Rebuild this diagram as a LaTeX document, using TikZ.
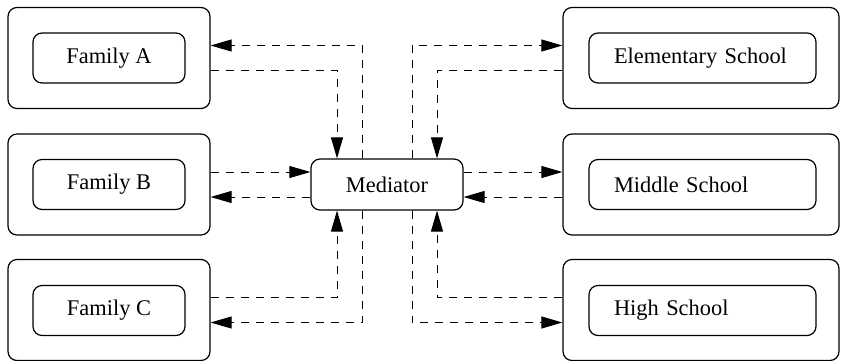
\documentclass[tikz,border=0pt]{standalone}
\usepackage{fontspec}
\setmainfont{Liberation Serif}
\usetikzlibrary{arrows.meta}
\begin{document}
\begin{tikzpicture}[x=0.5pt,y=-0.5pt,
  every node/.style={font=\fontsize{11.2}{13}\selectfont},
  outerbox/.style={draw,line width=0.6pt,rounded corners=4.5pt,minimum height=50.5pt,inner sep=0pt},
  leftouter/.style={outerbox,minimum width=101pt},
  rightouter/.style={outerbox,minimum width=138pt},
  innerbox/.style={draw,line width=0.6pt,rounded corners=4.5pt,minimum height=25pt,inner ysep=0pt},
  leftinner/.style={innerbox,minimum width=76pt,inner xsep=0pt},
  rightinner/.style={innerbox,minimum width=113.5pt,inner xsep=12.5pt,text width=88.5pt,align=left},
  medbox/.style={draw,line width=0.6pt,rounded corners=4.5pt,minimum width=76pt,minimum height=25.5pt,inner sep=0pt},
  flow/.style={draw,line width=0.5pt,dash pattern=on 4pt off 3.5pt,-{Triangle[length=10.5pt,width=6pt]}}
]
\useasboundingbox (0,0) rectangle (841,360);
% left outer boxes
\node[leftouter] (Aout) at (109,58) {};
\node[leftouter] (Bout) at (109,184.5) {};
\node[leftouter] (Cout) at (109,310) {};
\node[leftinner] (Ain) at (109,58) {Family A};
\node[leftinner] (Bin) at (109,184.5) {Family B};
\node[leftinner] (Cin) at (109,310.5) {Family C};
% right outer boxes
\node[rightouter] (Eout) at (701,58) {};
\node[rightouter] (Mout) at (701,184.5) {};
\node[rightouter] (Hout) at (701,310) {};
\node[rightinner] (Ein) at (702.5,58) {Elementary School};
\node[rightinner] (Min) at (702.5,184.5) {Middle School};
\node[rightinner] (Hin) at (702.5,310.5) {High School};
% mediator
\node[medbox] (med) at (387,184.5) {Mediator};
% connectors left
\draw[flow] ([xshift=-12.5pt]med.north) |- ([yshift=6.25pt]Aout.east);
\draw[flow] ([yshift=-6.25pt]Aout.east) -| ([xshift=-25pt]med.north);
\draw[flow] ([yshift=6.25pt]Bout.east) -- ([yshift=6.25pt]med.west);
\draw[flow] ([yshift=-6.25pt]med.west) -- ([yshift=-6.25pt]Bout.east);
\draw[flow] ([yshift=6.25pt]Cout.east) -| ([xshift=-25pt]med.south);
\draw[flow] ([xshift=-12.5pt]med.south) |- ([yshift=-6.25pt]Cout.east);
% connectors right
\draw[flow] ([xshift=12.5pt]med.north) |- ([yshift=6.25pt]Eout.west);
\draw[flow] ([yshift=-6.25pt]Eout.west) -| ([xshift=25pt]med.north);
\draw[flow] ([yshift=6.25pt]med.east) -- ([yshift=6.25pt]Mout.west);
\draw[flow] ([yshift=-6.25pt]Mout.west) -- ([yshift=-6.25pt]med.east);
\draw[flow] ([yshift=6.25pt]Hout.west) -| ([xshift=25pt]med.south);
\draw[flow] ([xshift=12.5pt]med.south) |- ([yshift=-6.25pt]Hout.west);
\end{tikzpicture}
\end{document}
